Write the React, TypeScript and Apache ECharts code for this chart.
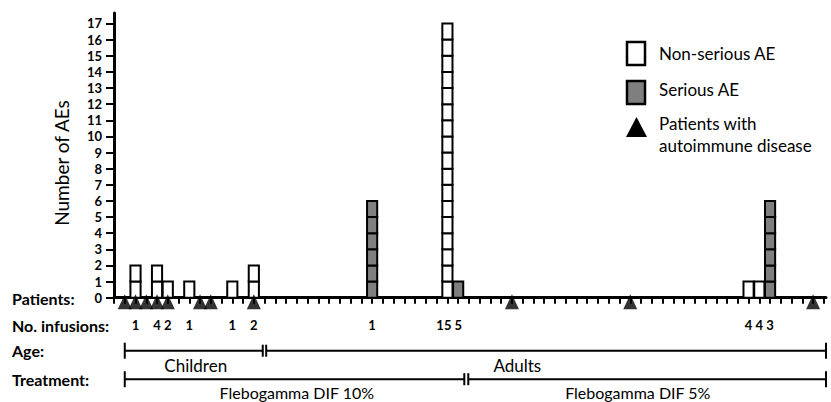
import React, { useEffect, useRef } from "react";
import * as echarts from "echarts";

// ---- data ----
const yTickValues = [0, 1, 2, 3, 4, 5, 6, 7, 8, 9, 10, 11, 12, 13, 14, 15, 16, 17];
const patientSlots = Array.from({ length: 67 }, (_, i) => i); // tick per patient slot 0..66

const nonSeriousX = [2, 4, 5, 7, 11, 13, 31, 59, 60];
const nonSeriousCount = [2, 2, 1, 1, 1, 2, 17, 1, 1];
const seriousX = [24, 32, 61];
const seriousCount = [6, 1, 6];

const infusionX = [2, 4, 5, 7, 11, 13, 24, 31, 32, 59, 60, 61];
const infusionLabels = ["1", "4", "2", "1", "1", "2", "1", "15", "5", "4", "4", "3"];

const autoimmuneX = [1, 2, 3, 4, 5, 8, 9, 13, 37, 48, 65];

const ageLabels = ["Children", "Adults"];
const ageRanges = [
  [1, 13.83],
  [14.15, 66.2],
];
const treatmentLabels = ["Flebogamma DIF 10%", "Flebogamma DIF 5%"];
const treatmentRanges = [
  [1, 32.57],
  [32.94, 66.2],
];

const rowLabels = ["Patients:", "No. infusions:", "Age:", "Treatment:"];
const legendLabels = ["Non-serious AE", "Serious AE", "Patients with", "autoimmune disease"];

// ---- layout (not data) ----
const ageLabelAt = [7.6, 37.5];
const treatmentLabelAt = [17, 48.7];
const FONT = "Lato, 'Open Sans', 'DejaVu Sans', sans-serif";
const GRAY = "#7f7f7f";

function stackRender(fill: string) {
  return (params: any, api: any) => {
    const x = api.value(0);
    const n = api.value(1);
    const w = api.size([1, 0])[0] - 0.6;
    const children: any[] = [];
    for (let k = 0; k < n; k++) {
      const p0 = api.coord([x, k]);
      const p1 = api.coord([x, k + 1]);
      children.push({
        type: "rect",
        shape: { x: p0[0] - w / 2, y: p1[1], width: w, height: p0[1] - p1[1] },
        style: { fill, stroke: "#000", lineWidth: 2 },
      });
    }
    return { type: "group", children };
  };
}

function bracketRender(
  labels: string[],
  labelAt: number[],
  offsetY: number,
  labelOffset: number,
  count: number,
  fontSize: number
) {
  return (params: any, api: any) => {
    const i = params.dataIndex;
    const a = api.coord([api.value(0), 0]);
    const b = api.coord([api.value(1), 0]);
    const y = a[1] + offsetY;
    const capL = i === 0 ? 8 : 6;
    const capR = i === count - 1 ? 8 : 6;
    const lx = api.coord([labelAt[i], 0])[0];
    return {
      type: "group",
      children: [
        { type: "line", shape: { x1: a[0], y1: y, x2: b[0], y2: y }, style: { stroke: "#000", lineWidth: 2 } },
        { type: "line", shape: { x1: a[0], y1: y - capL, x2: a[0], y2: y + capL }, style: { stroke: "#000", lineWidth: 2 } },
        { type: "line", shape: { x1: b[0], y1: y - capR, x2: b[0], y2: y + capR }, style: { stroke: "#000", lineWidth: 2 } },
        {
          type: "text",
          x: lx,
          y: y + labelOffset,
          style: {
            text: labels[i],
            fill: "#000",
            font: `${fontSize}px ${FONT}`,
            align: "center",
            verticalAlign: "middle",
          },
        },
      ],
    };
  };
}

export default function App() {
  const ref = useRef<HTMLDivElement>(null);

  useEffect(() => {
    document.body.style.margin = "0";
    const chart = echarts.init(ref.current!, undefined, { renderer: "svg" });

    const rowY = [298, 325, 350, 379];
    const legendY = [53, 89, 123, 145];

    const option: any = {
      animation: false,
      backgroundColor: "#fff",
      textStyle: { fontFamily: FONT },
      grid: { left: 114, right: 5, top: 13, bottom: 104.3, containLabel: false, outerBoundsMode: "none" },
      xAxis: {
        type: "value",
        min: 0,
        max: 66.2,
        interval: 1,
        axisLine: { show: true, onZero: true, lineStyle: { color: "#000", width: 3 } },
        axisTick: { show: true, length: 6, inside: false, lineStyle: { color: "#000", width: 2 }, customValues: patientSlots },
        axisLabel: { show: false },
        splitLine: { show: false },
      },
      yAxis: {
        type: "value",
        min: 0,
        max: 17.65,
        interval: 1,
        axisLine: { show: true, lineStyle: { color: "#000", width: 3 } },
        axisTick: { show: true, length: 8, lineStyle: { color: "#000", width: 2 }, customValues: yTickValues },
        axisLabel: { show: false },
        splitLine: { show: false },
      },
      series: [
        {
          type: "custom",
          name: "Y tick labels",
          clip: false,
          renderItem: (params: any, api: any) => {
            const p = api.coord([0, api.value(1)]);
            return {
              type: "text",
              x: p[0] - 12,
              y: p[1],
              style: {
                text: String(yTickValues[params.dataIndex]),
                fill: "#000",
                font: `bold 13px ${FONT}`,
                align: "right",
                verticalAlign: "middle",
              },
            };
          },
          data: yTickValues.map((v) => [0, v]),
        },
        {
          type: "custom",
          name: "Non-serious AE",
          clip: false,
          renderItem: stackRender("#fff"),
          data: nonSeriousX.map((x, i) => [x, nonSeriousCount[i]]),
          z: 3,
        },
        {
          type: "custom",
          name: "Serious AE",
          clip: false,
          renderItem: stackRender(GRAY),
          data: seriousX.map((x, i) => [x, seriousCount[i]]),
          z: 3,
        },
        {
          type: "scatter",
          name: "Patients with autoimmune disease",
          symbol: "triangle",
          symbolSize: [14, 15],
          symbolOffset: [0, 4],
          itemStyle: { color: "#000" },
          clip: false,
          data: autoimmuneX.map((x) => [x, 0]),
          z: 5,
        },
        {
          type: "custom",
          name: "No. infusions",
          clip: false,
          renderItem: (params: any, api: any) => {
            const i = params.dataIndex;
            const p = api.coord([api.value(0), 0]);
            const text = infusionLabels[i];
            const nextAdjacent = i + 1 < infusionX.length && infusionX[i + 1] - infusionX[i] === 1;
            const dx = nextAdjacent && text.length > 1 ? -(text.length - 1) * 3.5 : 0;
            return {
              type: "text",
              x: p[0] + dx,
              y: p[1] + 27.5,
              style: {
                text,
                fill: "#000",
                font: `bold 13px ${FONT}`,
                align: "center",
                verticalAlign: "middle",
              },
            };
          },
          data: infusionX.map((x) => [x, 0]),
        },
        {
          type: "custom",
          name: "Age",
          clip: false,
          renderItem: bracketRender(ageLabels, ageLabelAt, 53, 15, ageRanges.length, 17),
          data: ageRanges,
        },
        {
          type: "custom",
          name: "Treatment",
          clip: false,
          renderItem: bracketRender(treatmentLabels, treatmentLabelAt, 81.5, 13.5, treatmentRanges.length, 16),
          data: treatmentRanges,
        },
      ],
      graphic: [
        {
          type: "text",
          x: 61,
          y: 163,
          rotation: Math.PI / 2,
          style: {
            text: "Number of AEs",
            fill: "#000",
            font: `19px ${FONT}`,
            align: "center",
            verticalAlign: "middle",
          },
        },
        ...rowLabels.map((t, i) => ({
          type: "text",
          x: 12,
          y: rowY[i],
          style: { text: t, fill: "#000", font: `bold 16px ${FONT}`, align: "left", verticalAlign: "middle" },
        })),
        {
          type: "rect",
          shape: { x: 627, y: 42, width: 18, height: 23 },
          style: { fill: "#fff", stroke: "#000", lineWidth: 2.5 },
        },
        {
          type: "rect",
          shape: { x: 627, y: 81, width: 18, height: 23 },
          style: { fill: GRAY, stroke: "#000", lineWidth: 2.5 },
        },
        {
          type: "polygon",
          shape: { points: [[626, 137], [636.5, 117], [647, 137]] },
          style: { fill: "#000" },
        },
        ...legendLabels.map((t, i) => ({
          type: "text",
          x: 659,
          y: legendY[i],
          style: { text: t, fill: "#000", font: `17px ${FONT}`, align: "left", verticalAlign: "middle" },
        })),
      ],
    };

    chart.setOption(option);
    return () => chart.dispose();
  }, []);

  return (
    <div
      ref={ref}
      style={{ position: "fixed", left: 0, top: 0, width: 831, height: 402, background: "#fff" }}
    />
  );
}
